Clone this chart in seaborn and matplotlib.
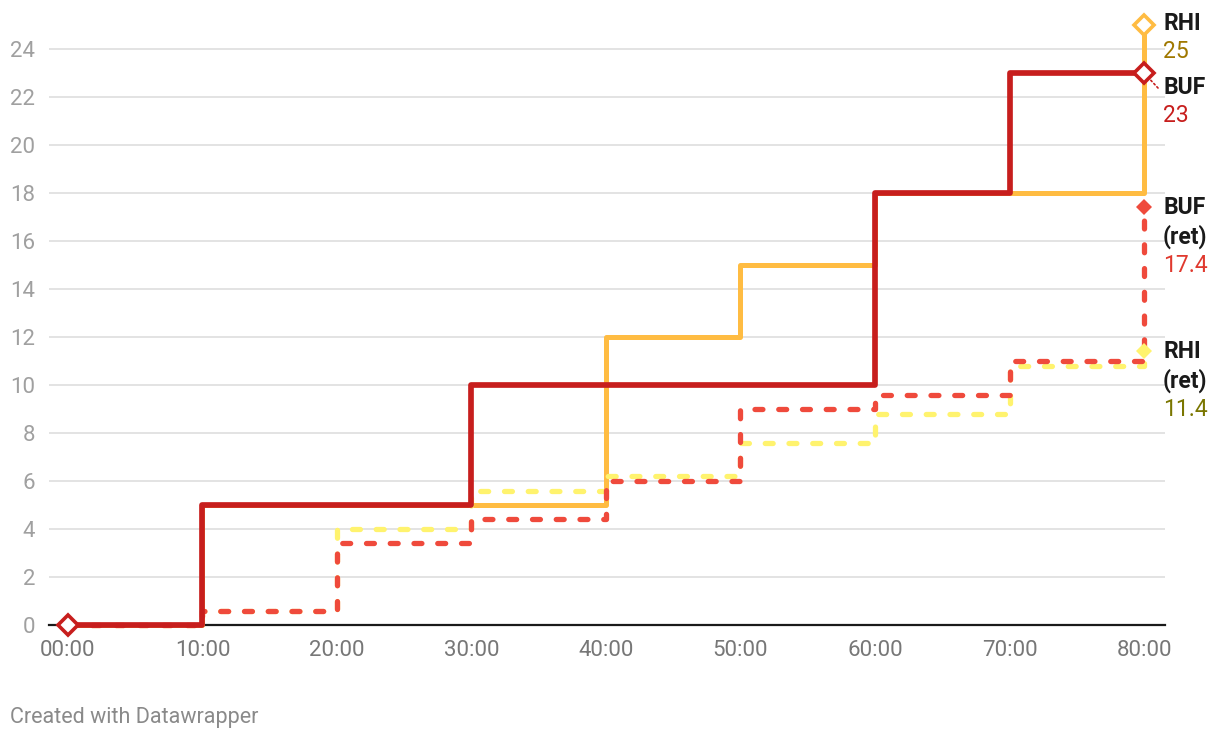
import matplotlib
matplotlib.use("Agg")
from matplotlib import pyplot as plt
import seaborn as sns
import pandas as pd

# minutes elapsed and cumulative values per series (step at each mark)
minutes = [0, 10, 20, 30, 40, 50, 60, 70, 80]
tick_labels = ["00:00", "10:00", "20:00", "30:00", "40:00", "50:00", "60:00", "70:00", "80:00"]
rhi = [0, 5, 5, 5, 12, 15, 18, 18, 25]
buf = [0, 5, 5, 10, 10, 10, 18, 23, 23]
rhi_ret = [0, 0.6, 4.0, 5.6, 6.2, 7.6, 8.8, 10.8, 11.4]
buf_ret = [0, 0.6, 3.4, 4.4, 6.0, 9.0, 9.6, 11.0, 17.4]

# drawing order: bottom to top
series = [
    # name, values, line colour, label value colour, dashed, line width, end marker filled
    ("RHI", rhi, "#ffbc42", "#a07800", False, 3.6, False),
    ("RHI (ret)", rhi_ret, "#fff36e", "#7a7600", True, 3.8, True),
    ("BUF (ret)", buf_ret, "#ef4a3c", "#e0392e", True, 3.8, True),
    ("BUF", buf, "#c71e1d", "#c71e1d", False, 4.1, False),
]

sns.set_theme(style="white")
plt.rcParams["font.family"] = ["Roboto", "DejaVu Sans"]

fig = plt.figure(figsize=(12.2, 7.42), dpi=100)
ax = fig.add_axes([49 / 1220, 117 / 742, 1116 / 1220, 600 / 742])

for i, (name, vals, col, vcol, dashed, lw, filled) in enumerate(series):
    df = pd.DataFrame({"minute": minutes, "value": vals})
    kw = {}
    if dashed:
        kw = dict(linestyle=(0, (1.5, 3.0)), dash_capstyle="round")
    sns.lineplot(data=df, x="minute", y="value", ax=ax, color=col, linewidth=lw,
                 drawstyle="steps-post", solid_capstyle="round",
                 solid_joinstyle="round", dash_joinstyle="round",
                 clip_on=False, zorder=3 + i, **kw)
    # end marker
    ax.plot(minutes[-1], vals[-1], marker="D", clip_on=False, zorder=10 + i,
            markersize=8.5 if filled else 10.5,
            markerfacecolor=col if filled else "white",
            markeredgecolor=col, markeredgewidth=0 if filled else 2.6)

# start marker
ax.plot(minutes[0], buf[0], marker="D", markersize=10.5, markerfacecolor="white",
        markeredgecolor="#c71e1d", markeredgewidth=2.6, clip_on=False, zorder=20)

# end labels (name in bold, value below), offsets in pixels
label_offsets = {"RHI": 1, "BUF": -15, "RHI (ret)": -2, "BUF (ret)": -2}
for name, vals, col, vcol, dashed, lw, filled in series:
    lines = name.replace(" ", "\n")
    dy = label_offsets[name]
    n = lines.count("\n") + 1
    if n == 1:
        ax.annotate(lines, xy=(minutes[-1], vals[-1]), xytext=(19, dy),
                    textcoords="offset pixels", ha="left", va="center",
                    fontsize=16.5, fontweight="bold", color="#1a1a1a",
                    annotation_clip=False)
    else:
        ax.annotate(lines, xy=(minutes[-1], vals[-1]), xytext=(19, dy + 13),
                    textcoords="offset pixels", ha="left", va="top",
                    fontsize=16.5, fontweight="bold", color="#1a1a1a",
                    linespacing=1.25, annotation_clip=False)
    vy = dy - 28 * n
    ax.annotate(f"{vals[-1]:g}", xy=(minutes[-1], vals[-1]), xytext=(19, vy),
                textcoords="offset pixels", ha="left", va="center",
                fontsize=16.5, color=vcol, annotation_clip=False)

# small leader for the pushed BUF label
ax.annotate("", xy=(minutes[-1], buf[-1]), xytext=(14, -15), textcoords="offset pixels",
            arrowprops=dict(arrowstyle="-", color="#c71e1d", linestyle=":", lw=1.2,
                            shrinkA=0, shrinkB=6), annotation_clip=False)

ax.set_xlim(-1.41, 81.56)
ax.set_ylim(0, 25)
ax.set_xticks(minutes)
ax.set_xticklabels(tick_labels)
ax.set_yticks(range(0, 25, 2))
ax.set_xlabel("")
ax.set_ylabel("")
ax.tick_params(axis="x", length=0, pad=11, labelsize=16, labelcolor="#777777")
ax.tick_params(axis="y", length=0, pad=10, labelsize=16, labelcolor="#a0a0a0")
ax.grid(axis="y", color="#e3e3e3", linewidth=1.4)
ax.grid(axis="x", visible=False)
for s in ["top", "right", "left"]:
    ax.spines[s].set_visible(False)
ax.spines["bottom"].set_color("#1a1a1a")
ax.spines["bottom"].set_linewidth(1.6)
ax.spines["bottom"].set_zorder(2)

fig.text(10 / 1220, 1 - 717 / 742, "Created with Datawrapper", ha="left", va="center",
         fontsize=15.5, color="#8a8a8a")

plt.savefig("out.png", dpi=100)
